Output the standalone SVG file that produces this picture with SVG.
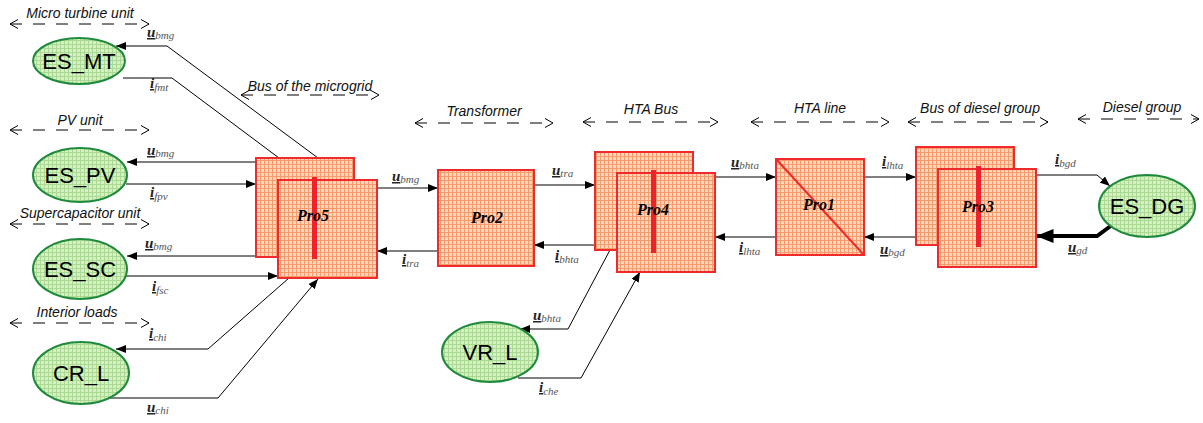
<svg xmlns="http://www.w3.org/2000/svg" width="1203" height="423" viewBox="0 0 1203 423">
<defs>
<pattern id="gg" width="4" height="4" patternUnits="userSpaceOnUse">
<rect width="4" height="4" fill="#d6f0c4"/>
<path d="M0 0.5H4M0.5 0V4" stroke="#a9d992" stroke-width="1"/>
</pattern>
<pattern id="og" width="4" height="4" patternUnits="userSpaceOnUse">
<rect width="4" height="4" fill="#fcd8c3"/>
<path d="M0 0.5H4M0.5 0V4" stroke="#f59a68" stroke-width="1"/>
</pattern>
<marker id="ah" viewBox="0 0 10 8" refX="10" refY="4" markerWidth="10" markerHeight="8" markerUnits="userSpaceOnUse" orient="auto">
<path d="M0 0L10 4L0 8z" fill="#000"/>
</marker>
<marker id="ahb" viewBox="0 0 10 8" refX="10" refY="4" markerWidth="18" markerHeight="14" markerUnits="userSpaceOnUse" orient="auto">
<path d="M0 0L10 4L0 8z" fill="#000"/>
</marker>
<marker id="oa" viewBox="0 0 8 10" refX="8" refY="5" markerWidth="8" markerHeight="10" markerUnits="userSpaceOnUse" orient="auto-start-reverse">
<path d="M0 0.5L8 5L0 9.5" fill="none" stroke="#000" stroke-width="1"/>
</marker>
<style>
.ell{fill:url(#gg);stroke:#1f8a3c;stroke-width:2}
.box{fill:url(#og);stroke:#ee2a2a;stroke-width:2}
.bar{fill:#ee2228}
.nt{font-family:"Liberation Sans",Arial,sans-serif;font-size:22px;fill:#000;text-anchor:middle}
.pt{font-family:"Liberation Serif","Times New Roman",serif;font-size:16px;font-weight:bold;font-style:italic;fill:#000;text-anchor:middle}
.gl{font-family:"Liberation Sans",Arial,sans-serif;font-size:14px;font-style:italic;fill:#111;text-anchor:middle}
.dl{fill:none;stroke:#000;stroke-width:1;stroke-dasharray:12 11;marker-start:url(#oa);marker-end:url(#oa)}
.ln{fill:none;stroke:#000;stroke-width:1}
.ar{marker-end:url(#ah)}
.lb{font-family:"Liberation Serif","Times New Roman",serif;font-style:italic;fill:#222}
.m{font-size:15px;font-weight:bold;text-decoration:underline}
.s{font-size:11px;fill:#555}
</style>
</defs>

<g id="group-labels">
<text class="gl" x="80" y="18">Micro turbine unit</text>
<path class="dl" d="M10 24H149"/>
<text class="gl" x="80" y="125">PV unit</text>
<path class="dl" d="M10 130H149"/>
<text class="gl" x="80" y="218">Supercapacitor unit</text>
<path class="dl" d="M10 224H149"/>
<text class="gl" x="77" y="317">Interior loads</text>
<path class="dl" d="M10 323H149"/>
<text class="gl" x="310" y="91">Bus of the microgrid</text>
<path class="dl" d="M241 95H379"/>
<text class="gl" x="484" y="116">Transformer</text>
<path class="dl" d="M415 123H553"/>
<text class="gl" x="651" y="114">HTA Bus</text>
<path class="dl" d="M583 122H718"/>
<text class="gl" x="820" y="113">HTA line</text>
<path class="dl" d="M751 122H889"/>
<text class="gl" x="980" y="113">Bus of diesel group</text>
<path class="dl" d="M908 122H1048"/>
<text class="gl" x="1142" y="112">Diesel group</text>
<path class="dl" d="M1078 119H1199"/>
</g>

<g id="connectors">
<path class="ln ar" d="M318 158L167 46H116"/>
<path class="ln" d="M123 78H172L279 158"/>
<path class="ln ar" d="M256 162H127"/>
<path class="ln ar" d="M126 184H256"/>
<path class="ln ar" d="M256 256H127"/>
<path class="ln ar" d="M125 276H278"/>
<path class="ln ar" d="M289 278L208 349H116"/>
<path class="ln ar" d="M108 398H218L318 279"/>
<path class="ln ar" d="M377 188H438"/>
<path class="ln ar" d="M438 251H377"/>
<path class="ln ar" d="M534 185H595"/>
<path class="ln ar" d="M595 245H534"/>
<path class="ln ar" d="M715 177H776"/>
<path class="ln ar" d="M776 237H715"/>
<path class="ln ar" d="M864 177H916"/>
<path class="ln ar" d="M916 237H864"/>
<path class="ln ar" d="M1036 175H1097L1110 186"/>
<path fill="none" stroke="#000" stroke-width="4" marker-end="url(#ahb)" d="M1112 225L1097 236H1036"/>
<path class="ln ar" d="M610 250L568 329H520"/>
<path class="ln ar" d="M518 378H581L640 272"/>
</g>

<g id="connector-labels">
<text class="lb" x="147" y="37"><tspan class="m">u</tspan><tspan class="s" dy="2">bmg</tspan></text>
<text class="lb" x="150" y="88"><tspan class="m">i</tspan><tspan class="s" dy="3">fmt</tspan></text>
<text class="lb" x="147" y="155"><tspan class="m">u</tspan><tspan class="s" dy="2">bmg</tspan></text>
<text class="lb" x="150" y="197"><tspan class="m">i</tspan><tspan class="s" dy="3">fpv</tspan></text>
<text class="lb" x="145" y="248"><tspan class="m">u</tspan><tspan class="s" dy="2">bmg</tspan></text>
<text class="lb" x="152" y="291"><tspan class="m">i</tspan><tspan class="s" dy="3">fsc</tspan></text>
<text class="lb" x="149" y="338"><tspan class="m">i</tspan><tspan class="s" dy="3">chi</tspan></text>
<text class="lb" x="147" y="412"><tspan class="m">u</tspan><tspan class="s" dy="2">chi</tspan></text>
<text class="lb" x="392" y="181"><tspan class="m">u</tspan><tspan class="s" dy="2">bmg</tspan></text>
<text class="lb" x="402" y="264"><tspan class="m">i</tspan><tspan class="s" dy="3">tra</tspan></text>
<text class="lb" x="552" y="175"><tspan class="m">u</tspan><tspan class="s" dy="2">tra</tspan></text>
<text class="lb" x="555" y="260"><tspan class="m">i</tspan><tspan class="s" dy="3">bhta</tspan></text>
<text class="lb" x="731" y="167"><tspan class="m">u</tspan><tspan class="s" dy="2">bhta</tspan></text>
<text class="lb" x="739" y="252"><tspan class="m">i</tspan><tspan class="s" dy="3">lhta</tspan></text>
<text class="lb" x="882" y="166"><tspan class="m">i</tspan><tspan class="s" dy="3">lhta</tspan></text>
<text class="lb" x="880" y="254"><tspan class="m">u</tspan><tspan class="s" dy="2">bgd</tspan></text>
<text class="lb" x="1055" y="164"><tspan class="m">i</tspan><tspan class="s" dy="3">bgd</tspan></text>
<text class="lb" x="1068" y="252"><tspan class="m">u</tspan><tspan class="s" dy="2">gd</tspan></text>
<text class="lb" x="533" y="320"><tspan class="m">u</tspan><tspan class="s" dy="2">bhta</tspan></text>
<text class="lb" x="539" y="392"><tspan class="m">i</tspan><tspan class="s" dy="3">che</tspan></text>
</g>

<g id="ES_MT"><ellipse class="ell" cx="79" cy="61" rx="46" ry="23"/><text class="nt" x="79" y="69">ES_MT</text></g>
<g id="ES_PV"><ellipse class="ell" cx="80" cy="175" rx="47" ry="27"/><text class="nt" x="80" y="183">ES_PV</text></g>
<g id="ES_SC"><ellipse class="ell" cx="80" cy="269" rx="47" ry="30"/><text class="nt" x="80" y="277">ES_SC</text></g>
<g id="CR_L"><ellipse class="ell" cx="81" cy="373" rx="48" ry="31"/><text class="nt" x="81" y="381">CR_L</text></g>
<g id="VR_L"><ellipse class="ell" cx="490" cy="352" rx="48" ry="30"/><text class="nt" x="490" y="360">VR_L</text></g>
<g id="ES_DG"><ellipse class="ell" cx="1147" cy="206" rx="48" ry="31"/><text class="nt" x="1147" y="214">ES_DG</text></g>

<g id="Pro5">
<rect class="box" x="256" y="158" width="98" height="99"/>
<rect class="box" x="278" y="180" width="99" height="98"/>
<rect class="bar" x="312" y="177" width="5" height="82"/>
<text class="pt" x="313" y="221">Pro5</text>
</g>
<g id="Pro2">
<rect class="box" x="438" y="170" width="96" height="96"/>
<text class="pt" x="487" y="223">Pro2</text>
</g>
<g id="Pro4">
<rect class="box" x="595" y="152" width="98" height="98"/>
<rect class="box" x="617" y="173" width="98" height="99"/>
<rect class="bar" x="651" y="170" width="5" height="83"/>
<text class="pt" x="653" y="215">Pro4</text>
</g>
<g id="Pro1">
<rect class="box" x="776" y="159" width="88" height="96"/>
<path d="M776 159L864 255" stroke="#ee2a2a" stroke-width="2"/>
<text class="pt" x="819" y="210">Pro1</text>
</g>
<g id="Pro3">
<rect class="box" x="916" y="147" width="98" height="98"/>
<rect class="box" x="938" y="169" width="98" height="98"/>
<rect class="bar" x="976" y="166" width="5" height="81"/>
<text class="pt" x="978" y="212">Pro3</text>
</g>
</svg>
